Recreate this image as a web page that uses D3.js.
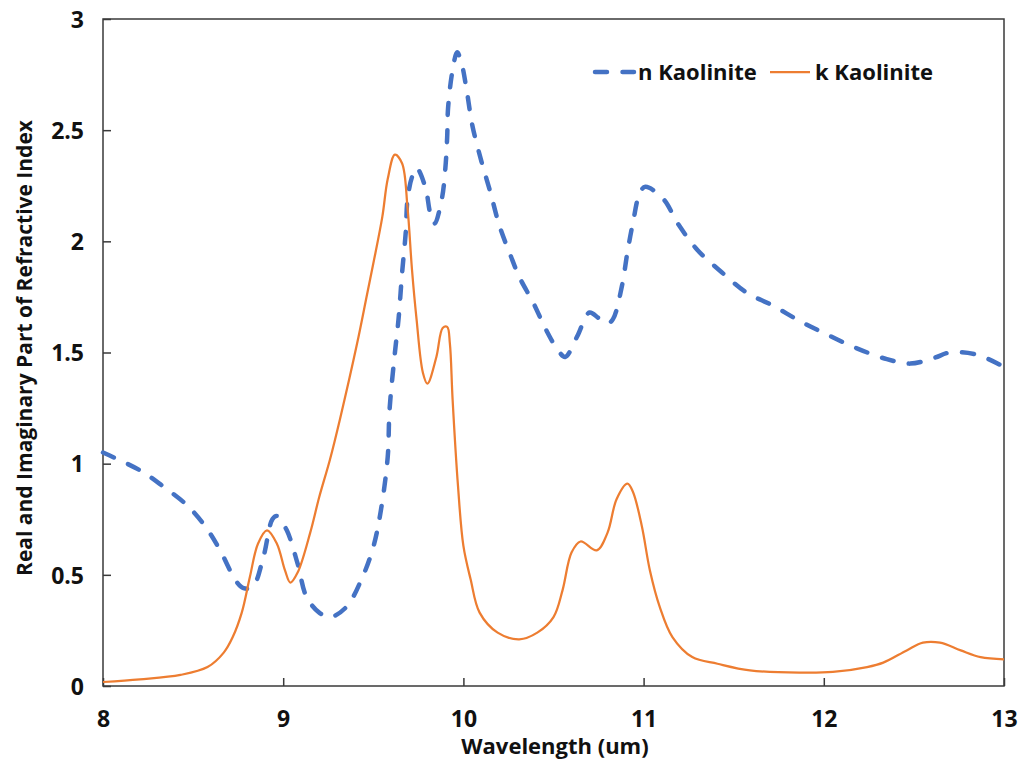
<!DOCTYPE html>
<html>
<head>
<meta charset="utf-8">
<script src="https://cdn.jsdelivr.net/npm/d3@7"></script>
<style>
  html, body { margin: 0; padding: 0; background: #fff; }
  svg text { font-family: "Open Sans", Lato, "Liberation Sans", sans-serif; font-weight: bold; fill: #111; }
</style>
</head>
<body>
<svg id="chart" width="1021" height="762"></svg>
<script>
// Wavelength samples (um) and refractive index values for kaolinite
const nWavelength = [8.00, 8.205, 8.33, 8.47, 8.57, 8.65, 8.74, 8.78, 8.83, 8.89, 8.94, 8.965, 9.02, 9.08, 9.13, 9.20, 9.26, 9.35, 9.44, 9.50, 9.54, 9.58, 9.59, 9.62, 9.64, 9.66, 9.68, 9.69, 9.715, 9.74, 9.79, 9.815, 9.84, 9.88, 9.90, 9.91, 9.915, 9.94, 9.965, 9.99, 10.02, 10.05, 10.10, 10.15, 10.20, 10.26, 10.31, 10.39, 10.46, 10.525, 10.565, 10.63, 10.70, 10.75, 10.80, 10.83, 10.88, 10.91, 10.94, 10.98, 11.01, 11.11, 11.19, 11.30, 11.435, 11.57, 11.72, 11.87, 12.02, 12.18, 12.35, 12.48, 12.61, 12.70, 12.85, 13.00];
const nValues = [1.05, 0.97, 0.90, 0.81, 0.715, 0.61, 0.47, 0.44, 0.445, 0.58, 0.75, 0.765, 0.70, 0.55, 0.40, 0.33, 0.31, 0.355, 0.49, 0.625, 0.78, 1.03, 1.24, 1.50, 1.65, 1.86, 2.04, 2.19, 2.29, 2.33, 2.24, 2.13, 2.08, 2.19, 2.33, 2.47, 2.60, 2.77, 2.85, 2.80, 2.67, 2.52, 2.36, 2.22, 2.07, 1.94, 1.84, 1.72, 1.60, 1.51, 1.48, 1.57, 1.68, 1.655, 1.63, 1.65, 1.80, 1.95, 2.08, 2.22, 2.245, 2.19, 2.08, 1.96, 1.86, 1.77, 1.71, 1.64, 1.58, 1.52, 1.47, 1.45, 1.475, 1.50, 1.49, 1.435];

const kWavelength = [8.00, 8.205, 8.43, 8.58, 8.67, 8.72, 8.77, 8.815, 8.86, 8.91, 8.965, 9.01, 9.04, 9.08, 9.15, 9.20, 9.26, 9.315, 9.41, 9.465, 9.50, 9.55, 9.58, 9.62, 9.66, 9.69, 9.715, 9.74, 9.775, 9.80, 9.85, 9.885, 9.91, 9.925, 9.94, 9.97, 10.00, 10.04, 10.09, 10.19, 10.31, 10.41, 10.50, 10.55, 10.60, 10.65, 10.74, 10.80, 10.85, 10.91, 10.94, 10.99, 11.035, 11.09, 11.16, 11.27, 11.41, 11.59, 11.87, 12.05, 12.24, 12.33, 12.46, 12.55, 12.645, 12.76, 12.87, 13.00];
const kValues = [0.018, 0.03, 0.05, 0.085, 0.15, 0.22, 0.33, 0.49, 0.64, 0.70, 0.64, 0.52, 0.465, 0.51, 0.69, 0.85, 1.02, 1.20, 1.54, 1.76, 1.90, 2.11, 2.28, 2.39, 2.35, 2.15, 1.87, 1.65, 1.41, 1.36, 1.48, 1.61, 1.615, 1.54, 1.29, 0.90, 0.63, 0.48, 0.33, 0.24, 0.21, 0.24, 0.31, 0.43, 0.60, 0.65, 0.61, 0.69, 0.84, 0.91, 0.875, 0.72, 0.52, 0.355, 0.22, 0.13, 0.10, 0.07, 0.06, 0.063, 0.085, 0.105, 0.16, 0.195, 0.195, 0.16, 0.13, 0.12];

const xTicks = [8, 9, 10, 11, 12, 13];
const yTicks = [0, 0.5, 1, 1.5, 2, 2.5, 3];
const seriesNames = ["n Kaolinite", "k Kaolinite"];

const svg = d3.select("#chart");
const plotLeft = 103, plotRight = 1004, plotTop = 19, plotBottom = 686;

const x = d3.scaleLinear().domain([8, 13]).range([plotLeft, plotRight]);
const y = d3.scaleLinear().domain([0, 3]).range([plotBottom, plotTop]);

const axisColor = "#3a3a3a";
const nColor = "#4472C4", kColor = "#ED7D31";
const nDash = "12,15.5";

// plot frame
svg.append("rect")
  .attr("x", plotLeft).attr("y", plotTop)
  .attr("width", plotRight - plotLeft).attr("height", plotBottom - plotTop)
  .attr("fill", "none").attr("stroke", axisColor).attr("stroke-width", 1.5);

// bottom axis with inward ticks
const xAxis = svg.append("g")
  .attr("transform", `translate(0,${plotBottom})`)
  .call(d3.axisBottom(x).tickValues(xTicks).tickSize(-8).tickFormat(d3.format("d")));
xAxis.select(".domain").remove();
xAxis.selectAll(".tick line").attr("stroke", axisColor).attr("stroke-width", 1.5);
xAxis.selectAll(".tick text")
  .attr("y", 41).attr("dy", "0")
  .style("font-size", "23px").attr("fill", "#111");

// left axis with inward ticks
const yAxis = svg.append("g")
  .attr("transform", `translate(${plotLeft},0)`)
  .call(d3.axisLeft(y).tickValues(yTicks).tickSize(-8).tickFormat(d => d3.format("")(d)));
yAxis.select(".domain").remove();
yAxis.selectAll(".tick line").attr("stroke", axisColor).attr("stroke-width", 1.5);
yAxis.selectAll(".tick text")
  .attr("x", -19).attr("dy", "0.36em")
  .style("font-size", "23px").attr("fill", "#111");

// axis titles
svg.append("text")
  .attr("x", 555).attr("y", 754)
  .attr("text-anchor", "middle")
  .style("font-size", "22px")
  .text("Wavelength (um)");

svg.append("text")
  .attr("transform", "translate(32,348) rotate(-90)")
  .attr("text-anchor", "middle")
  .style("font-size", "21px")
  .text("Real and Imaginary Part of Refractive Index");

const line = d3.line()
  .x(d => x(d[0]))
  .y(d => y(d[1]))
  .curve(d3.curveCatmullRom.alpha(0.5));

const nData = nWavelength.map((w, i) => [w, nValues[i]]);
const kData = kWavelength.map((w, i) => [w, kValues[i]]);

svg.append("path")
  .datum(nData)
  .attr("d", line)
  .attr("fill", "none")
  .attr("stroke", nColor)
  .attr("stroke-width", 4.5)
  .attr("stroke-linecap", "round")
  .attr("stroke-dasharray", nDash);

svg.append("path")
  .datum(kData)
  .attr("d", line)
  .attr("fill", "none")
  .attr("stroke", kColor)
  .attr("stroke-width", 2.25);

// legend
const legend = svg.append("g");
legend.append("line")
  .attr("x1", 595).attr("x2", 634).attr("y1", 72).attr("y2", 72)
  .attr("stroke", nColor).attr("stroke-width", 4.5)
  .attr("stroke-linecap", "round").attr("stroke-dasharray", nDash);
legend.append("text")
  .attr("x", 638).attr("y", 80)
  .style("font-size", "22px")
  .text(seriesNames[0]);
legend.append("line")
  .attr("x1", 770).attr("x2", 810).attr("y1", 72).attr("y2", 72)
  .attr("stroke", kColor).attr("stroke-width", 2.25);
legend.append("text")
  .attr("x", 815).attr("y", 80)
  .style("font-size", "22px")
  .text(seriesNames[1]);
</script>
</body>
</html>
